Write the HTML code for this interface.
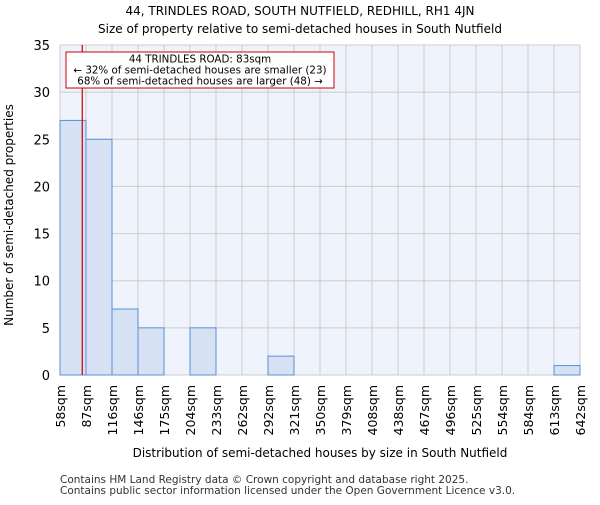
<!DOCTYPE html>
<html><head><meta charset="utf-8"><style>
body{margin:0;background:#fff;font-family:"Liberation Sans","DejaVu Sans",sans-serif}
</style></head><body>
<svg width="600" height="500" xmlns="http://www.w3.org/2000/svg" style="font-family:'DejaVu Sans','Liberation Sans',sans-serif">
<text x="300" y="15" text-anchor="middle" font-size="12">44, TRINDLES ROAD, SOUTH NUTFIELD, REDHILL, RH1 4JN</text>
<text x="300" y="33" text-anchor="middle" font-size="12">Size of property relative to semi-detached houses in South Nutfield</text>
<rect x="60" y="45" width="520" height="330" fill="#eff3fb"/>
<g id="grid"></g>
<g id="bars"></g>
<g id="ticks"></g>
<text transform="translate(13,215) rotate(-90)" text-anchor="middle" font-size="12">Number of semi-detached properties</text>
<text x="320" y="457" text-anchor="middle" font-size="12">Distribution of semi-detached houses by size in South Nutfield</text>
<text x="60" y="483" font-size="10.5" fill="#333">Contains HM Land Registry data © Crown copyright and database right 2025.</text>
<text x="60" y="494" font-size="10.5" fill="#333">Contains public sector information licensed under the Open Government Licence v3.0.</text>
<g id="marker"></g>
</svg>
<script>
const binLabels=["58sqm","87sqm","116sqm","146sqm","175sqm","204sqm","233sqm","262sqm","292sqm","321sqm","350sqm","379sqm","408sqm","438sqm","467sqm","496sqm","525sqm","554sqm","584sqm","613sqm","642sqm"];
const counts=[27,25,7,5,0,5,0,0,2,0,0,0,0,0,0,0,0,0,0,1];
const yTicks=[0,5,10,15,20,25,30,35];
const subjectSize=83;
const xMin=58,xMax=642,yMax=35;
const L=60,R=580,T=45,B=375;
const NS="http://www.w3.org/2000/svg";
const bw=(R-L)/counts.length;
const xb=i=>L+i*bw;
const xv=v=>L+(v-xMin)/(xMax-xMin)*(R-L);
const y=v=>B-v/yMax*(B-T);
function mk(tag,attrs,parent){const e=document.createElementNS(NS,tag);for(const k in attrs)e.setAttribute(k,attrs[k]);document.getElementById(parent).appendChild(e);return e;}
yTicks.forEach(t=>{
 const g=mk("line",{x1:L,x2:R,y1:y(t),y2:y(t),stroke:"#cccccc","stroke-width":1},"grid");
 
 
 const tx=mk("text",{x:L-10,y:y(t)+5,"text-anchor":"end","font-size":13},"ticks");
 tx.textContent=t;
 
 
});
binLabels.forEach((lb,i)=>{
 const g=mk("line",{x1:xb(i),x2:xb(i),y1:T,y2:B,stroke:"#cccccc","stroke-width":1},"grid");
 
 
 const tx=mk("text",{transform:`translate(${xb(i)+5},385) rotate(-90)`,"text-anchor":"end","font-size":12.5},"ticks");
 tx.textContent=lb;
 
 
});
counts.forEach((c,i)=>{
 if(c<=0)return;
 const r=mk("rect",{x:xb(i),y:y(c),width:bw,height:B-y(c),fill:"#d6e1f4",stroke:"#5a8fd8","stroke-width":1},"bars");
 
 
});
const mx=xv(subjectSize);
const ml=mk("line",{x1:mx,x2:mx,y1:T,y2:B,stroke:"#cc0000","stroke-width":1.2},"marker");


const box=mk("rect",{x:66,y:52,width:268,height:36,fill:"#fff",stroke:"#cc0000","stroke-width":1},"marker");


["44 TRINDLES ROAD: 83sqm","← 32% of semi-detached houses are smaller (23)","68% of semi-detached houses are larger (48) →"].forEach((s,i)=>{
 const t=mk("text",{x:200,y:62.5+i*11,"text-anchor":"middle","font-size":10.3},"marker");
 t.textContent=s;
 
 
});
</script>
</body></html>
